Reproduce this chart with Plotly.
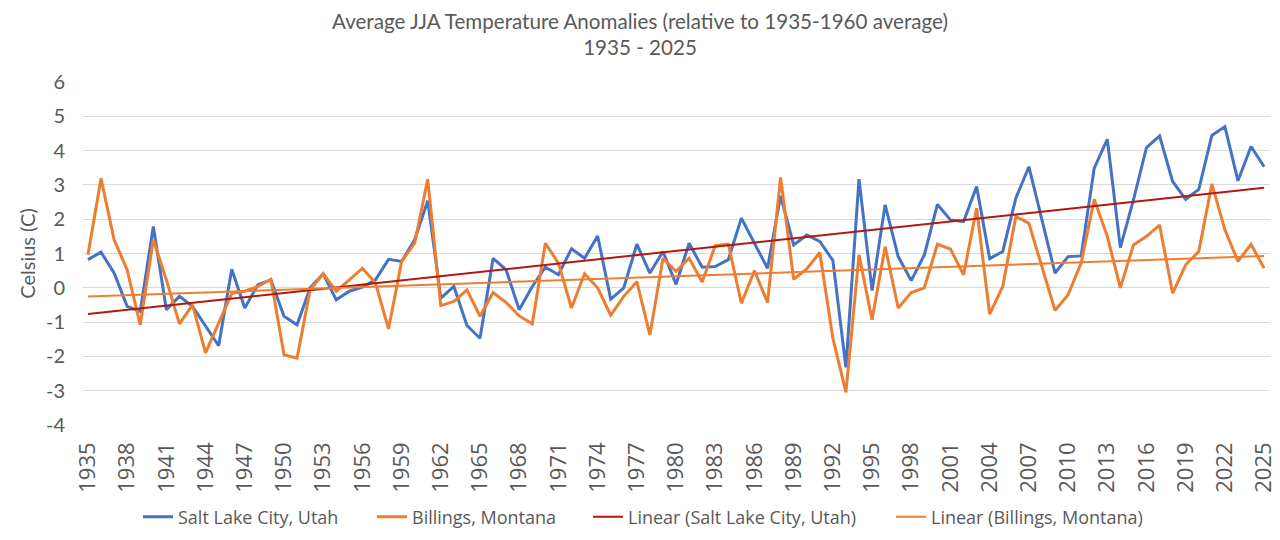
import numpy as np
import plotly.graph_objects as go

# JJA anomalies (deg C) relative to the 1935-1960 mean
years = list(range(1935, 2026))

slc = [0.82, 1.04, 0.43, -0.54, -0.69, 1.79, -0.64, -0.25, -0.54, -1.10,
       -1.69, 0.54, -0.59, 0.09, 0.23, -0.83, -1.08, 0.00, 0.41, -0.35,
       -0.10, 0.02, 0.23, 0.83, 0.77, 1.40, 2.54, -0.30, 0.04, -1.10,
       -1.47, 0.86, 0.52, -0.64, 0.04, 0.60, 0.38, 1.14, 0.86, 1.51,
       -0.33, 0.00, 1.27, 0.43, 1.06, 0.10, 1.30, 0.60, 0.62, 0.82,
       2.03, 1.30, 0.57, 2.68, 1.25, 1.54, 1.35, 0.80, -2.32, 3.17,
       -0.08, 2.42, 0.91, 0.21, 0.96, 2.43, 1.98, 1.93, 2.95, 0.85,
       1.06, 2.61, 3.53, 1.98, 0.43, 0.91, 0.93, 3.49, 4.33, 1.17,
       2.56, 4.09, 4.43, 3.10, 2.58, 2.87, 4.44, 4.70, 3.12, 4.12,
       3.53]

billings = [0.96, 3.19, 1.40, 0.52, -1.08, 1.40, 0.23, -1.05, -0.50, -1.90,
            -1.03, -0.17, -0.10, 0.04, 0.25, -1.95, -2.05, -0.06, 0.41, -0.10,
            0.23, 0.57, 0.14, -1.20, 0.77, 1.30, 3.17, -0.52, -0.40, -0.06,
            -0.83, -0.14, -0.43, -0.82, -1.05, 1.30, 0.72, -0.59, 0.41, 0.00,
            -0.80, -0.25, 0.18, -1.37, 0.86, 0.48, 0.86, 0.17, 1.23, 1.27,
            -0.45, 0.50, -0.43, 3.22, 0.25, 0.55, 1.03, -1.47, -3.05, 0.96,
            -0.93, 1.20, -0.59, -0.14, 0.00, 1.27, 1.13, 0.38, 2.32, -0.77,
            0.04, 2.08, 1.88, 0.62, -0.66, -0.20, 0.72, 2.58, 1.50, 0.00,
            1.25, 1.50, 1.83, -0.16, 0.67, 1.06, 3.03, 1.69, 0.77, 1.27,
            0.57]

tick_years = list(range(1935, 2026, 3))
y_ticks = list(range(-4, 7))

# least-squares trend lines, like Excel's "Linear" trendline
x = np.array(years, dtype=float)
slc_fit = np.polyval(np.polyfit(x, slc, 1), x)
bil_fit = np.polyval(np.polyfit(x, billings, 1), x)

blue = "#4472C4"
orange = "#ED7D31"
darkred = "#B3180F"
gray = "#595959"

fig = go.Figure()
fig.add_trace(go.Scatter(x=years, y=slc, mode="lines", name="Salt Lake City, Utah",
                         line=dict(color=blue, width=3), legend="legend"))
fig.add_trace(go.Scatter(x=years, y=billings, mode="lines", name="Billings, Montana",
                         line=dict(color=orange, width=3), legend="legend2"))
fig.add_trace(go.Scatter(x=years, y=slc_fit, mode="lines", name="Linear (Salt Lake City, Utah)",
                         line=dict(color=darkred, width=2), legend="legend3"))
fig.add_trace(go.Scatter(x=years, y=bil_fit, mode="lines", name="Linear (Billings, Montana)",
                         line=dict(color=orange, width=2), legend="legend4"))

# one legend box per entry so the spacing matches Excel's
leg = dict(orientation="h", xref="container", yref="container",
           xanchor="left", y=1 - 517 / 540, yanchor="middle",
           font=dict(family="Open Sans", size=18, color=gray),
           itemwidth=30, bgcolor="rgba(0,0,0,0)")

fig.update_layout(
    width=1280, height=540,
    template="simple_white",
    plot_bgcolor="white", paper_bgcolor="white",
    margin=dict(l=83, r=10, t=82, b=115),
    title=dict(text="Average JJA Temperature Anomalies (relative to 1935-1960 average)<br>1935 - 2025",
               x=0.5, xanchor="center", yref="container", y=0.947, yanchor="middle",
               font=dict(family="Lato", size=20.6, color=gray)),
    showlegend=True,
    legend=dict(leg, x=138 / 1280),
    legend2=dict(leg, x=372 / 1280),
    legend3=dict(leg, x=588 / 1280),
    legend4=dict(leg, x=891 / 1280),
)

fig.update_xaxes(
    range=[1934.62, 2025.45], automargin=False,
    tickmode="array", tickvals=tick_years, ticktext=[str(y) for y in tick_years],
    tickangle=-90, tickfont=dict(family="Open Sans", size=22, color=gray),
    ticklabelstandoff=12,
    showline=False, ticks="", showgrid=False, zeroline=False,
)
fig.update_yaxes(
    range=[-4, 6], automargin=False,
    tickmode="array", tickvals=y_ticks, ticktext=[str(v) for v in y_ticks],
    tickfont=dict(family="Lato", size=20, color=gray),
    ticklabelstandoff=17,
    showgrid=True, gridcolor="#D9D9D9", gridwidth=1,
    showline=False, ticks="", zeroline=False,
    title=dict(text="Celsius (C)", font=dict(family="Lato", size=20, color=gray), standoff=4),
)

# the page's default 8px body margin would shift the figure
fig.write_html("out.html", config={"displayModeBar": False},
               post_script="document.body.style.margin='0';")
